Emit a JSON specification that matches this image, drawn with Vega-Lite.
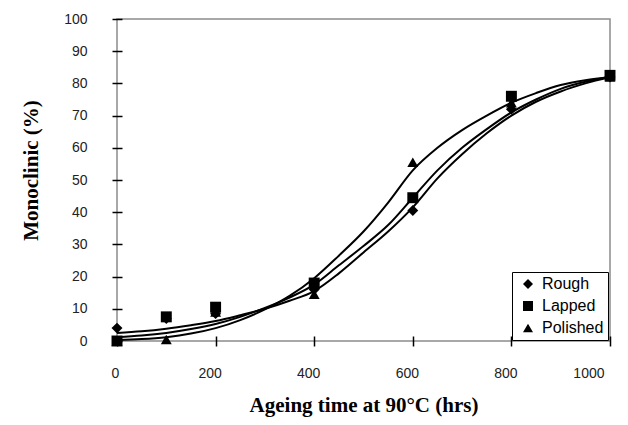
{
  "$schema": "https://vega.github.io/schema/vega-lite/v6.json",
  "width": 493,
  "height": 322,
  "autosize": {"type": "none"},
  "padding": {"left": 117, "top": 19, "right": 18, "bottom": 84},
  "background": "white",
  "config": {
    "view": {"stroke": "#8c8c8c", "strokeWidth": 1.5},
    "axis": {
      "labelFont": "Liberation Sans",
      "labelFontSize": 14,
      "labelColor": "#222",
      "titleFont": "Liberation Serif",
      "titleFontSize": 21,
      "titleFontWeight": "bold",
      "titleColor": "#000",
      "tickColor": "#000",
      "tickWidth": 1.5,
      "tickSize": 10,
      "offset": -5,
      "domain": false,
      "grid": false
    }
  },
  "datasets": {
    "points": [
      {"t": 0, "m": 4, "s": "Rough"},
      {"t": 100, "m": 7, "s": "Rough"},
      {"t": 200, "m": 8.5, "s": "Rough"},
      {"t": 400, "m": 16, "s": "Rough"},
      {"t": 600, "m": 40.5, "s": "Rough"},
      {"t": 800, "m": 72, "s": "Rough"},
      {"t": 1000, "m": 82, "s": "Rough"},
      {"t": 0, "m": 0, "s": "Polished"},
      {"t": 100, "m": 0.5, "s": "Polished"},
      {"t": 200, "m": 9, "s": "Polished"},
      {"t": 400, "m": 14.5, "s": "Polished"},
      {"t": 600, "m": 55.5, "s": "Polished"},
      {"t": 800, "m": 74, "s": "Polished"},
      {"t": 1000, "m": 82, "s": "Polished"},
      {"t": 0, "m": 0, "s": "Lapped"},
      {"t": 100, "m": 7.5, "s": "Lapped"},
      {"t": 200, "m": 10.5, "s": "Lapped"},
      {"t": 400, "m": 18, "s": "Lapped"},
      {"t": 600, "m": 44.5, "s": "Lapped"},
      {"t": 800, "m": 76, "s": "Lapped"},
      {"t": 1000, "m": 82.5, "s": "Lapped"}
    ],
    "curves": [
      {"t": 0, "m": 2.5, "s": "Rough"},
      {"t": 50, "m": 3.0, "s": "Rough"},
      {"t": 100, "m": 3.8, "s": "Rough"},
      {"t": 150, "m": 4.9, "s": "Rough"},
      {"t": 200, "m": 6.2, "s": "Rough"},
      {"t": 250, "m": 8, "s": "Rough"},
      {"t": 300, "m": 10, "s": "Rough"},
      {"t": 350, "m": 12.5, "s": "Rough"},
      {"t": 400, "m": 15.5, "s": "Rough"},
      {"t": 450, "m": 21, "s": "Rough"},
      {"t": 500, "m": 27.5, "s": "Rough"},
      {"t": 550, "m": 34, "s": "Rough"},
      {"t": 600, "m": 41.5, "s": "Rough"},
      {"t": 650, "m": 50.5, "s": "Rough"},
      {"t": 700, "m": 58, "s": "Rough"},
      {"t": 750, "m": 64.5, "s": "Rough"},
      {"t": 800, "m": 70, "s": "Rough"},
      {"t": 850, "m": 74.3, "s": "Rough"},
      {"t": 900, "m": 77.5, "s": "Rough"},
      {"t": 950, "m": 80, "s": "Rough"},
      {"t": 1000, "m": 82, "s": "Rough"},
      {"t": 0, "m": 1.2, "s": "Lapped"},
      {"t": 50, "m": 1.7, "s": "Lapped"},
      {"t": 100, "m": 2.5, "s": "Lapped"},
      {"t": 150, "m": 3.7, "s": "Lapped"},
      {"t": 200, "m": 5.3, "s": "Lapped"},
      {"t": 250, "m": 7.5, "s": "Lapped"},
      {"t": 300, "m": 10.3, "s": "Lapped"},
      {"t": 350, "m": 13.5, "s": "Lapped"},
      {"t": 400, "m": 17.5, "s": "Lapped"},
      {"t": 450, "m": 23.5, "s": "Lapped"},
      {"t": 500, "m": 29.5, "s": "Lapped"},
      {"t": 550, "m": 36, "s": "Lapped"},
      {"t": 600, "m": 44.5, "s": "Lapped"},
      {"t": 650, "m": 53, "s": "Lapped"},
      {"t": 700, "m": 60, "s": "Lapped"},
      {"t": 750, "m": 65.8, "s": "Lapped"},
      {"t": 800, "m": 71, "s": "Lapped"},
      {"t": 850, "m": 75, "s": "Lapped"},
      {"t": 900, "m": 78.3, "s": "Lapped"},
      {"t": 950, "m": 80.5, "s": "Lapped"},
      {"t": 1000, "m": 82, "s": "Lapped"},
      {"t": 0, "m": 0.3, "s": "Polished"},
      {"t": 50, "m": 0.6, "s": "Polished"},
      {"t": 100, "m": 1.2, "s": "Polished"},
      {"t": 150, "m": 2.3, "s": "Polished"},
      {"t": 200, "m": 4, "s": "Polished"},
      {"t": 250, "m": 6.5, "s": "Polished"},
      {"t": 300, "m": 9.8, "s": "Polished"},
      {"t": 350, "m": 14, "s": "Polished"},
      {"t": 400, "m": 19.5, "s": "Polished"},
      {"t": 450, "m": 26.5, "s": "Polished"},
      {"t": 500, "m": 34, "s": "Polished"},
      {"t": 550, "m": 43, "s": "Polished"},
      {"t": 600, "m": 53, "s": "Polished"},
      {"t": 650, "m": 60, "s": "Polished"},
      {"t": 700, "m": 65.5, "s": "Polished"},
      {"t": 750, "m": 70, "s": "Polished"},
      {"t": 800, "m": 74, "s": "Polished"},
      {"t": 850, "m": 77, "s": "Polished"},
      {"t": 900, "m": 79.5, "s": "Polished"},
      {"t": 950, "m": 81, "s": "Polished"},
      {"t": 1000, "m": 82, "s": "Polished"}
    ]
  },
  "encoding": {
    "x": {
      "field": "t",
      "type": "quantitative",
      "scale": {"domain": [0, 1000], "nice": false, "zero": false},
      "axis": {
        "values": [0, 200, 400, 600, 800, 1000],
        "format": "d",
        "labelPadding": 20,
        "labelOffset": -6,
        "title": "Ageing time at 90°C (hrs)",
        "titlePadding": 14
      }
    },
    "y": {
      "field": "m",
      "type": "quantitative",
      "scale": {"domain": [0, 100], "nice": false},
      "axis": {
        "values": [0, 10, 20, 30, 40, 50, 60, 70, 80, 90, 100],
        "labelPadding": 25,
        "title": "Monoclinic (%)",
        "titlePadding": 22,
        "titleY": 151
      }
    }
  },
  "layer": [
    {
      "mark": {"type": "rule", "color": "#000", "strokeWidth": 2},
      "encoding": {"x": {"datum": 0, "type": "quantitative"}, "y": null}
    },
    {
      "mark": {"type": "rule", "color": "#000", "strokeWidth": 2},
      "encoding": {"y": {"datum": 0, "type": "quantitative"}, "x": null}
    },
    {
      "data": {"name": "curves"},
      "mark": {"type": "line", "color": "#000", "strokeWidth": 2, "interpolate": "monotone"},
      "encoding": {"detail": {"field": "s", "type": "nominal"}}
    },
    {
      "data": {"name": "points"},
      "mark": {"type": "point", "filled": true, "color": "#000", "opacity": 1, "size": 120},
      "encoding": {
        "shape": {
          "field": "s",
          "type": "nominal",
          "scale": {"domain": ["Rough", "Lapped", "Polished"], "range": ["diamond", "square", "triangle-up"]},
          "legend": {
            "title": null,
            "orient": "none",
            "legendX": 395,
            "legendY": 253,
            "padding": 4,
            "strokeColor": "#000",
            "fillColor": "#fff",
            "labelFont": "Liberation Sans",
            "labelFontSize": 16,
            "labelColor": "#000",
            "symbolSize": 100,
            "symbolOffset": 4,
            "symbolFillColor": "#000",
            "symbolStrokeColor": "#000",
            "rowPadding": 6,
            "labelOffset": 6
          }
        }
      }
    }
  ]
}
